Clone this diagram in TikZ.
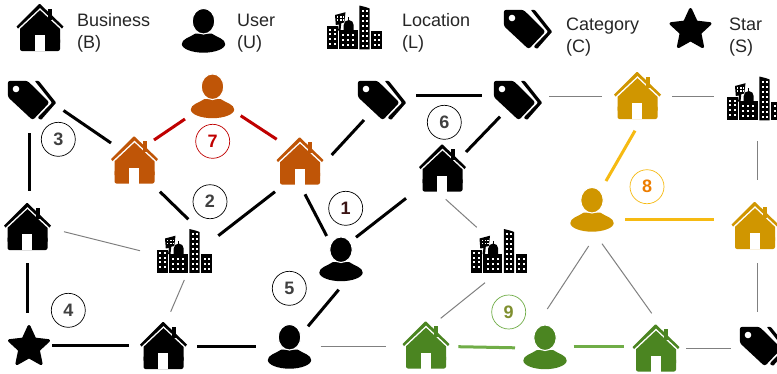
\documentclass[tikz,border=0pt]{standalone}
\usepackage{fontspec}
\setmainfont{Liberation Sans}
\definecolor{cOrange}{HTML}{BF5507}
\definecolor{cGold}{HTML}{D09600}
\definecolor{cGreen}{HTML}{4B8521}
\definecolor{cRed}{HTML}{C00000}
\definecolor{cAmber}{HTML}{F6BA12}
\definecolor{cLime}{HTML}{70AD47}
\definecolor{cThin}{HTML}{808080}
\definecolor{cDigit}{HTML}{404040}
\definecolor{cEight}{HTML}{ED7D00}
\definecolor{cNine}{HTML}{7F8F2F}
\definecolor{cOne}{HTML}{3A1414}
\tikzset{
  iconbox/.style={inner sep=0pt,outer sep=0pt,minimum size=40pt},
  strong/.style={line width=3pt,black},
  thin gray/.style={line width=1pt,cThin},
  redline/.style={line width=3pt,cRed},
  amberline/.style={line width=3pt,cAmber},
  limeline/.style={line width=3pt,cLime},
  legendtext/.style={anchor=west,align=left,inner sep=0pt,text=black!85,font=\fontsize{18}{22}\selectfont},
  badge/.style={circle,draw=black,line width=0.7pt,minimum size=34pt,inner sep=0pt,fill=white,font=\fontsize{18}{18}\selectfont\bfseries,text=cDigit},
  pics/houseicon/.style={code={
    \fill[#1] (8,-19) rectangle (12,-8);
    \fill[#1,line join=round] (-23.5,-1)--(-1,-23.5)--(0,-23.5)--(23.5,-1)--(22,1)--(0,-19.5)--(-22,1)--cycle;
    \fill[#1] (0,-17.4)--(-20,1.4)--(-20,15)--(20,15)--(20,1.4)--cycle;
    \fill[#1,rounded corners=2pt] (-20,10) rectangle (20,23.5);
    \fill[white] (-5.5,7.5) rectangle (4.5,23.8);
  }},
  pics/usericon/.style={code={
    \fill[#1] (-21.7,13) .. controls (-21.7,8) and (-14,6.5) .. (-8,2.5) -- (8,2.5) .. controls (14,6.5) and (21.7,8) .. (21.7,13) .. controls (21.7,18) and (11,21.7) .. (0,21.7) .. controls (-11,21.7) and (-21.7,18) .. (-21.7,13) -- cycle;
    \filldraw[#1,draw=white,line width=1.1pt] (0,-9.8) ellipse [x radius=11.3,y radius=12.8];
  }},
  pics/tagicon/.style={code={
    \fill[#1,rounded corners=2.5pt] (-24.2,-19.7)--(-4.5,-19.7)--(17.5,2)--(0.7,19.7)--(-24.2,-3.5)--cycle;
    \fill[white] (-16,-11.5) circle (3.3);
    \fill[#1,rounded corners=1pt] (2.7,-19.7)--(6.7,-19.7)--(24.2,2.2)--(9,19.5)--(5.6,17.2)--(20,2.2)--cycle;
  }},
  pics/staricon/.style={code={
    \filldraw[#1,line width=3pt,line join=round]
      (-90:20.5)--(-126:9.8)--(-162:20.5)--(-198:9.8)--(-234:20.5)--(-270:9.8)--(-306:20.5)--(-342:9.8)--(-18:20.5)--(-54:9.8)--cycle;
  }},
  pics/cityicon/.style={code={
    \fill[#1] (-27.7,-1.5) rectangle (-16.9,21.8);
    \fill[#1] (-15.6,2.5) rectangle (3.4,21.8);
    \fill[#1] (-10.8,3)--(-10.8,-2.5) arc[start angle=180,end angle=360,radius=5]--(-0.8,3)--cycle;
    \fill[#1] (-6.2,-10.5) rectangle (-5.2,-5);
    \fill[#1] (4.8,21.8)--(4.8,-22)--(11,-20.5)--(15.2,-19)--(15.2,21.8)--cycle;
    \fill[#1] (16.8,3) rectangle (27.7,21.8);
    \fill[#1] (-19.5,-12.5)--(-9,-15.3)--(-10.2,-5)--(-13.2,-4.3)--(-14,3)--(-16.5,3)--(-15.5,-3)--(-18.7,-2.5)--cycle;
    \foreach \wx in {-24.7,-20} \foreach \wy in {2,6.7,11.4,16.1} \fill[white] (\wx-1,\wy-1) rectangle ++(2,2);
    \foreach \wx in {-11.5,-6.5,-1.5} \foreach \wy in {7.5,12.5,17.5} \fill[white] (\wx-1,\wy-1) rectangle ++(2,2);
    \foreach \wx in {8,12.2} \foreach \wy in {-17,-12,-7,-2,3,8,13,18} \fill[white] (\wx-1,\wy-1) rectangle ++(2,2);
    \foreach \wx in {20.1,24.7} \foreach \wy in {7.5,12.5,17.5} \fill[white] (\wx-1,\wy-1) rectangle ++(2,2);
    \foreach \wx in {-16.8,-13.6,-11.2} \foreach \wy in {-10.5,-7.5} \fill[white] (\wx-.7,\wy-.7) rectangle ++(1.4,1.4);
  }},
}
\newcommand{\iconAt}[5]{\node[iconbox] (#1) at (#4,#5) {}; \pic at (#1) {#2={#3}};}
\newcommand{\linkUp}[5]{\draw[#1] ([shift={(#3)}]#2.center) -- ([shift={(#5)}]#4.center);}
\begin{document}
\begin{tikzpicture}[x=1pt,y=-1pt]
\useasboundingbox (0,0) rectangle (777,373);
\fill[white] (0,0) rectangle (777,373);
% legend
\iconAt{legB}{houseicon}{black}{40}{27.5}
\iconAt{legU}{usericon}{black}{203.5}{31}
\iconAt{legL}{cityicon}{black}{354.5}{27.5}
\iconAt{legC}{tagicon}{black}{528}{29.5}
\iconAt{legS}{staricon}{black}{690.5}{30}
\node[legendtext] (txtB) at (77,33) {Business\\(B)};
\node[legendtext] (txtU) at (237,33) {User\\(U)};
\node[legendtext] (txtL) at (402,33) {Location\\(L)};
\node[legendtext] (txtC) at (566,37.5) {Category\\(C)};
\node[legendtext] (txtS) at (729,37.5) {Star\\(S)};
% graph icons
\iconAt{tagA}{tagicon}{black}{32}{100.5}
\iconAt{uO}{usericon}{cOrange}{212.5}{96.5}
\iconAt{hOa}{houseicon}{cOrange}{134.5}{160}
\iconAt{hOb}{houseicon}{cOrange}{300}{161}
\iconAt{tagB}{tagicon}{black}{382}{100.5}
\iconAt{tagC}{tagicon}{black}{518}{100.5}
\iconAt{hG}{houseicon}{cGold}{637.5}{95.5}
\iconAt{bTR}{cityicon}{black}{754.5}{98.5}
\iconAt{hT}{houseicon}{black}{442.5}{168}
\iconAt{hL}{houseicon}{black}{27.5}{226.5}
\iconAt{bC}{cityicon}{black}{184.5}{251}
\iconAt{uA}{usericon}{black}{341}{259.5}
\iconAt{sA}{staricon}{black}{29}{347}
\iconAt{hB}{houseicon}{black}{163.5}{345.5}
\iconAt{uB}{usericon}{black}{289.5}{347}
\iconAt{bR}{cityicon}{black}{499}{251}
\iconAt{hGa}{houseicon}{cGreen}{426}{345}
\iconAt{uGr}{usericon}{cGreen}{545}{347.5}
\iconAt{hGb}{houseicon}{cGreen}{656}{348}
\iconAt{tagD}{tagicon}{black}{764}{346.5}
\iconAt{uGo}{usericon}{cGold}{592}{210}
\iconAt{hGo}{houseicon}{cGold}{755}{225.5}
% connectors
\linkUp{strong}{tagA}{31.5,10}{hOa}{-23.5,-17}
\linkUp{strong}{tagA}{-3,32.5}{hL}{1.5,-35.5}
\linkUp{redline}{uO}{-27.5,22.5}{hOa}{19.5,-20}
\linkUp{redline}{uO}{28.2,19.2}{hOb}{-23.3,-21.7}
\linkUp{strong}{tagB}{-18,19.5}{hOb}{31.7,-6}
\linkUp{strong}{tagB}{34,-5.5}{tagC}{-36,-5.5}
\linkUp{strong}{tagC}{-18,16.2}{hT}{23.5,-16}
\linkUp{thin gray}{tagC}{31.3,-4.2}{hG}{-35.5,0.8}
\linkUp{thin gray}{hG}{34.5,0.8}{bTR}{-40.2,-2.2}
\linkUp{amberline}{hG}{-2.5,35.2}{uGo}{14,-29}
\linkUp{thin gray}{bTR}{3.2,42.5}{hGo}{2.7,-45.5}
\linkUp{strong}{hOa}{25.5,31.7}{bC}{3.8,-31.7}
\linkUp{strong}{hOb}{-25,30.7}{bC}{33.8,-15.3}
\linkUp{strong}{hOb}{5,33.3}{uA}{-14.3,-23.5}
\linkUp{strong}{uA}{15,-22.2}{hT}{-36.5,30.3}
\linkUp{thin gray}{hT}{3.2,31.3}{bR}{-22.3,-23.7}
\linkUp{thin gray}{hL}{36.5,5.2}{bC}{-44.5,-0.3}
\linkUp{thin gray}{bC}{-0.2,29}{hB}{7.2,-33.8}
\linkUp{strong}{hL}{-0.2,36.8}{sA}{-1.7,-34.3}
\linkUp{strong}{sA}{23.3,-1.3}{hB}{-34.2,0.2}
\linkUp{strong}{hB}{33.8,1.2}{uB}{-33.8,-0.3}
\linkUp{strong}{uA}{-2.3,30.2}{uB}{18.5,-20.7}
\linkUp{thin gray}{uB}{31.2,-1}{hGa}{-40,1}
\linkUp{thin gray}{bR}{-14,31.7}{hGa}{14.7,-26.7}
\linkUp{amberline}{uGo}{33,9.7}{hGo}{-41,-5.8}
\linkUp{thin gray}{uGo}{-3.3,36}{uGr}{2.3,-38.5}
\linkUp{thin gray}{uGo}{10,33.7}{hGb}{-4.3,-34.7}
\linkUp{thin gray}{hGo}{2.7,37.8}{tagD}{-6.3,-34.8}
\linkUp{limeline}{hGa}{32.3,1.7}{uGr}{-30,0.3}
\linkUp{limeline}{uGr}{28.7,-0.8}{hGb}{-32,-1.3}
\linkUp{thin gray}{hGb}{30.3,0.3}{tagD}{-32.7,1.8}
% numbered badges
\node[badge,text=cOne] (nA) at (345.7,208.3) {1};
\node[badge] (nB) at (210,201.7) {2};
\node[badge] (nC) at (58.3,139.3) {3};
\node[badge] (nD) at (68.3,310.3) {4};
\node[badge] (nE) at (289.3,288.3) {5};
\node[badge] (nF) at (444.3,122.3) {6};
\node[badge,draw=cRed,text=cRed] (nG) at (212.7,141.3) {7};
\node[badge,draw=cAmber,text=cEight] (nH) at (647,186.7) {8};
\node[badge,draw=cLime,text=cNine] (nI) at (508.7,312) {9};
\end{tikzpicture}
\end{document}
